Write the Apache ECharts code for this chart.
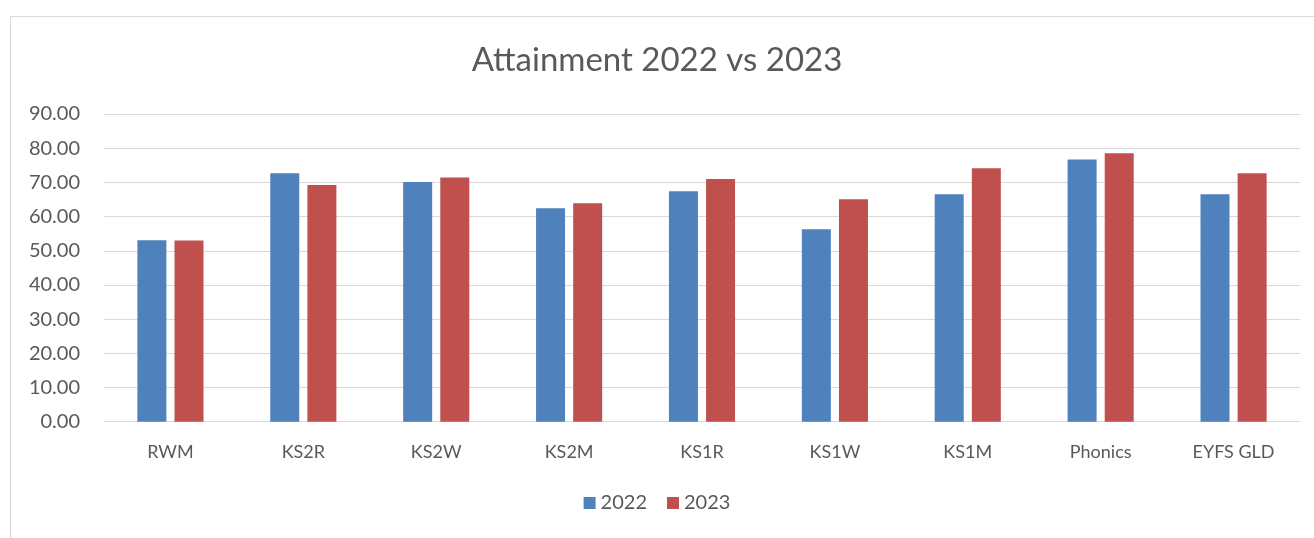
<!DOCTYPE html>
<html><head><meta charset="utf-8">
<script src="https://cdn.jsdelivr.net/npm/echarts@6/dist/echarts.min.js"></script>
<style>
html,body{margin:0;padding:0;background:#fff;}
#frame{position:absolute;left:10px;top:16px;width:1320px;height:540px;border:1px solid #d9d9d9;box-sizing:border-box;}
#c{position:absolute;left:0;top:0;width:1314px;height:538px;}
</style></head>
<body>
<div id="frame"></div>
<div id="c"></div>
<script>
const categories = ['RWM','KS2R','KS2W','KS2M','KS1R','KS1W','KS1M','Phonics','EYFS GLD'];
const values2022 = [53.1, 72.7, 70.1, 62.4, 67.4, 56.3, 66.5, 76.7, 66.5];
const values2023 = [53.0, 69.2, 71.4, 63.9, 71.0, 65.1, 74.1, 78.5, 72.7];
const seriesNames = ['2022','2023'];
const font = 'Lato, "Open Sans", sans-serif';
const chart = echarts.init(document.getElementById('c'));
chart.setOption({
  animation:false,
  textStyle:{fontFamily:font},
  title:{text:'Attainment 2022 vs 2023',left:'center',top:39,
    textStyle:{fontFamily:font,fontSize:33,fontWeight:'normal',color:'#595959'}},
  legend:{data:seriesNames,bottom:20,left:'center',itemWidth:12,itemHeight:12,itemGap:20,
    icon:'rect',textStyle:{fontFamily:font,fontSize:20,color:'#595959'}},
  grid:{left:104,right:14,top:114,bottom:116.3},
  xAxis:{type:'category',data:categories,
    axisLine:{lineStyle:{color:'#d9d9d9'}},axisTick:{show:false},
    axisLabel:{fontFamily:font,fontSize:18,color:'#595959',margin:21}},
  yAxis:{type:'value',min:0,max:90,interval:10,
    axisLine:{show:false},axisTick:{show:false},
    splitLine:{lineStyle:{color:'#d9d9d9'}},
    axisLabel:{fontFamily:font,fontSize:20,color:'#595959',margin:24,formatter:v=>v.toFixed(2)}},
  series:[
    {name:seriesNames[0],type:'bar',data:values2022,barWidth:29,barGap:'28%',itemStyle:{color:'#4f81bd'}},
    {name:seriesNames[1],type:'bar',data:values2023,barWidth:29,itemStyle:{color:'#c0504d'}}
  ]
});
</script>
</body></html>
